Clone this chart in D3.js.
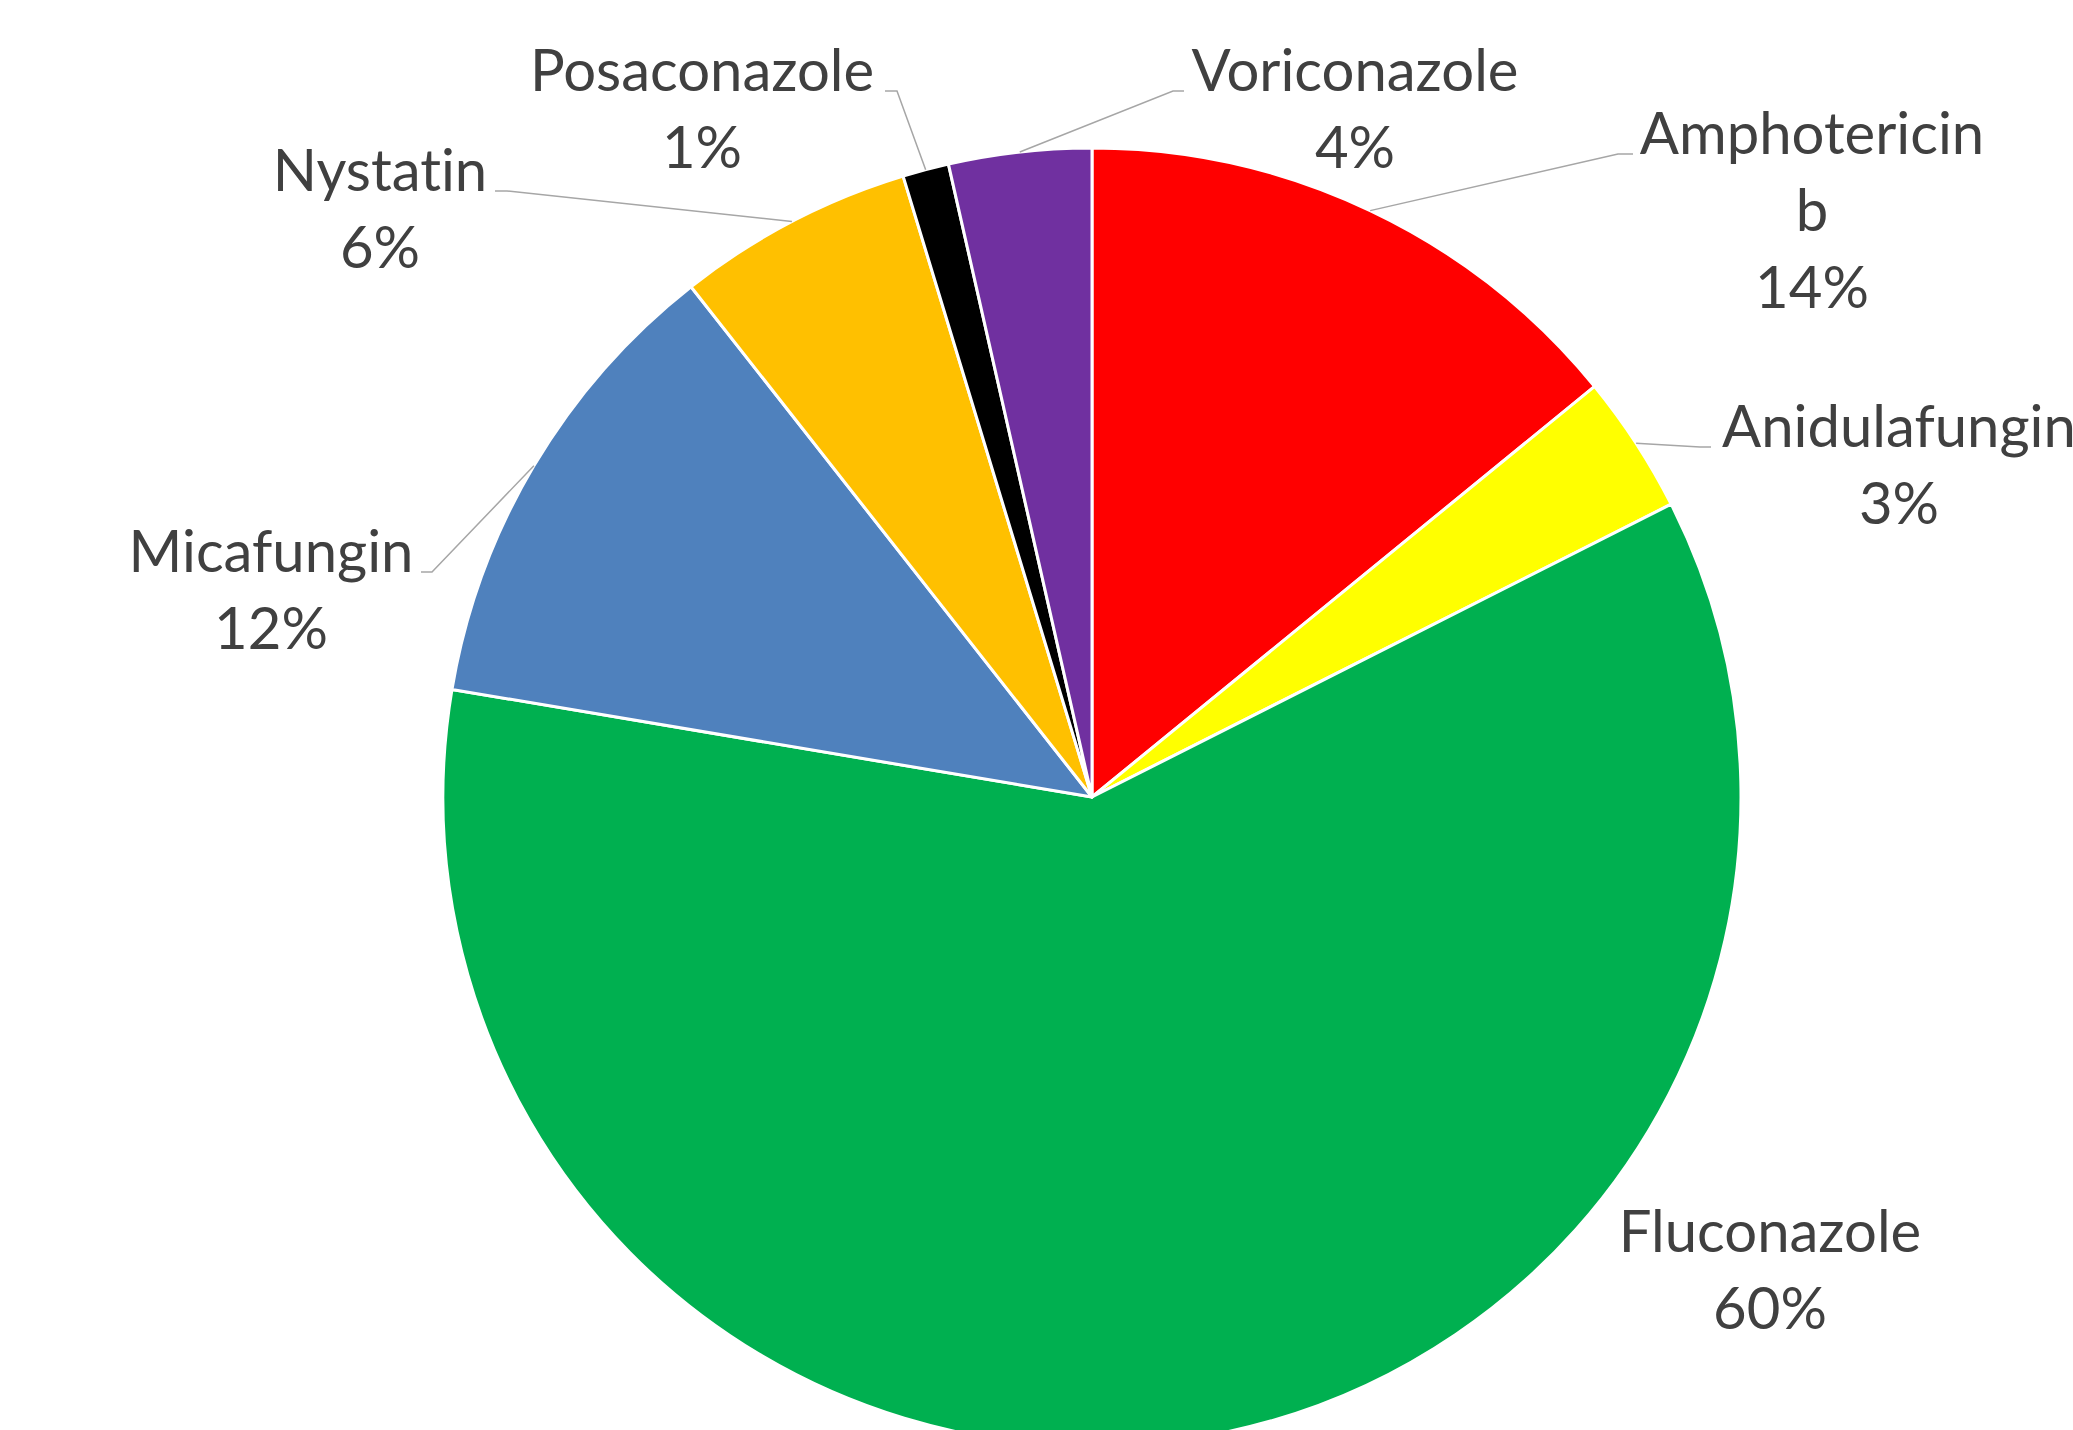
<!DOCTYPE html>
<html>
<head>
<meta charset="utf-8">
<script src="https://cdn.jsdelivr.net/npm/d3@7"></script>
<style>
  html, body { margin: 0; padding: 0; background: #fff; overflow: hidden; }
  svg { display: block; }
  text { font-variant-ligatures: none; font-feature-settings: "liga" 0; }
</style>
</head>
<body>
<svg id="chart" width="2073" height="1430"></svg>
<script>
// ---- data ----
const categories = ["Amphotericin b", "Anidulafungin", "Fluconazole", "Micafungin", "Nystatin", "Posaconazole", "Voriconazole"];
const values = [14.1, 3.45, 60.1, 11.75, 5.9, 1.15, 3.55];
const colors = ["#FF0000", "#FFFF00", "#00B050", "#4F81BD", "#FFC000", "#000000", "#7030A0"];
// label text lines (category name broken as in the original)
const labelLines = [["Amphotericin", "b"], ["Anidulafungin"], ["Fluconazole"], ["Micafungin"], ["Nystatin"], ["Posaconazole"], ["Voriconazole"]];

// ---- layout (positions, not data) ----
const W = 2073, H = 1430;
const cx = 1092, cy = 797, R = 649;
const lineH = 77;
// label anchor: centre x, first baseline y; leader: elbow and end points (null = no leader)
const labelLayout = [
  { x: 1812, y: 154, elbow: [1618, 154], end: [1633, 154] },
  { x: 1899, y: 447, elbow: [1700, 447], end: [1711, 447] },
  { x: 1770, y: 1252, elbow: null, end: null },
  { x: 271,  y: 572, elbow: [432, 572], end: [421, 572] },
  { x: 380,  y: 191, elbow: [507, 191], end: [495, 191] },
  { x: 702,  y: 91,  elbow: [897, 91],  end: [885, 91] },
  { x: 1355, y: 91,  elbow: [1173, 91], end: [1184, 91] }
];

const svg = d3.select("#chart");
const g = svg.append("g").attr("transform", `translate(${cx},${cy})`);

const total = d3.sum(values);
const data = categories.map((c, i) => ({ name: c, value: values[i], color: colors[i], lines: labelLines[i], layout: labelLayout[i] }));

const pie = d3.pie().value(d => d.value).sort(null).startAngle(0).endAngle(2 * Math.PI);
const arcs = pie(data);
const arc = d3.arc().innerRadius(0).outerRadius(R);
const edgeArc = d3.arc().innerRadius(R).outerRadius(R);

g.selectAll("path.slice")
  .data(arcs)
  .join("path")
  .attr("class", "slice")
  .attr("d", arc)
  .attr("fill", d => d.data.color)
  .attr("stroke", "#ffffff")
  .attr("stroke-width", 3)
  .attr("stroke-linejoin", "round");

// leader lines
const leaders = svg.append("g");
arcs.forEach(a => {
  const L = a.data.layout;
  if (!L.elbow) return;
  const p = edgeArc.centroid(a);
  const start = [cx + p[0], cy + p[1]];
  leaders.append("polyline")
    .attr("points", [start, L.elbow, L.end].map(q => q.join(",")).join(" "))
    .attr("fill", "none")
    .attr("stroke", "#A6A6A6")
    .attr("stroke-width", 1.5);
});

// labels
const fmt = v => Math.round(v / total * 100) + "%";
const labels = svg.append("g")
  .attr("font-family", "Lato, 'Open Sans', sans-serif")
  .attr("font-size", 58)
  .attr("fill", "#404040")
  .attr("text-anchor", "middle");

arcs.forEach(a => {
  const L = a.data.layout;
  const t = labels.append("text").attr("x", L.x).attr("y", L.y);
  const lines = a.data.lines.concat([fmt(a.data.value)]);
  lines.forEach((ln, i) => {
    t.append("tspan").attr("x", L.x).attr("dy", i === 0 ? 0 : lineH).text(ln);
  });
});
</script>
</body>
</html>
